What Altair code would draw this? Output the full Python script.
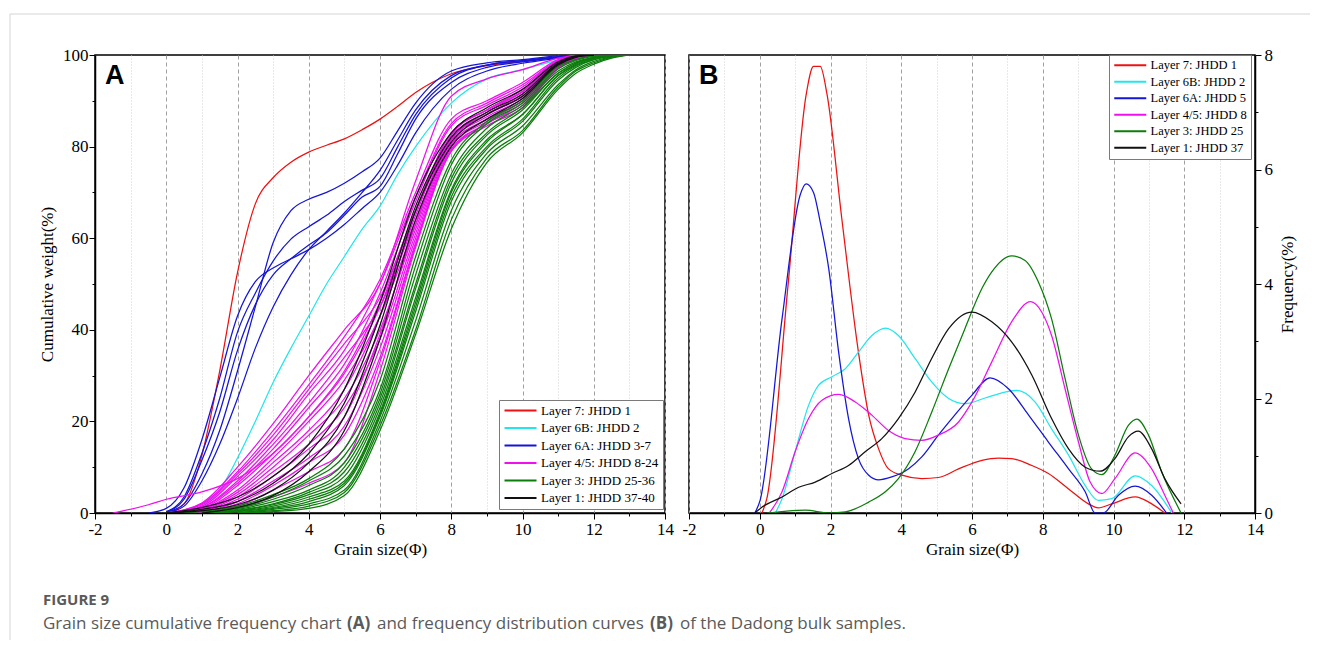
import altair as alt
import pandas as pd

# ---------------- Panel A : cumulative curves ----------------
GRID_FINE = [-1, -0.5, 0, 0.5, 1, 1.5, 2, 2.5, 3, 3.5, 4, 4.5, 5, 5.5, 6, 6.5, 7, 8, 9, 10, 11, 11.5, 12]
GRID_COARSE = [-1.5, -0.5, 0, 1, 2, 3, 4, 5, 6, 7, 8, 9, 10, 11, 11.5, 12, 12.5, 13]

N = None
RED_A = [N, N, 0, 2, 12.6, 31, 52.5, 67.5, 73.2, 76.6, 78.8, 80.3, 81.7, 83.7, 86, 88.8, 91.8, 95.9, 97.7, 98.6, 99.6, 100, N]
CYAN_A = [N, N, N, 0, 1.5, 5, 12, 20, 28.5, 36, 43, 50, 56, 62, 67, 74, 80, 89.5, 94.8, 96.8, 98.9, 99.6, 100]
BLUE_A = [
    [N, N, 0.2, 2, 8.5, 18, 31, 45, 59, 66, 68.5, 70, 72, 74.5, 77.5, 83.5, 89.5, 96.5, 98.3, 99, 99.8, 100, N],
    [N, 0, 1, 5.5, 16, 29.5, 43, 50.5, 53.5, 55.5, 57.5, 60, 63, 66.5, 70, 76, 83, 92.5, 96.5, 98.2, 99.3, 99.8, 100],
    [N, N, 0.3, 3.5, 13, 25, 39.5, 48, 55, 59.8, 62.5, 65, 68, 70.5, 73, 80, 87, 95, 97.8, 98.8, 99.6, 100, N],
    [N, N, 0.2, 3, 11.5, 22, 35.5, 45.5, 52, 55.5, 58.5, 61.2, 65, 69, 71.3, 78.5, 86, 94, 97.3, 98.5, 99.5, 100, N],
    [N, N, 0, 1.5, 7, 15, 25, 36, 45, 52, 57.5, 61.5, 65.5, 70, 74.8, 81.5, 88, 95.5, 97.8, 98.8, 99.6, 100, N],
]
MAGENTA_A = [
    [0, 1.8, 3, 4.6, 7.5, 13, 21, 31, 46, 66, 82, 87.5, 92, 98.5, 99.6, 100, N, N],
    [N, N, 0, 2.2, 10, 19.5, 30, 40, 50, 72.5, 91, 94.8, 96.8, 99.3, 100, N, N, N],
    [N, N, 0, 2, 9, 18, 28, 38.5, 51, 70, 86, 90, 94, 99, 100, N, N, N],
    [N, N, 0, 1.8, 8.5, 17, 27, 37, 47, 66, 83, 88, 92.5, 98.6, 99.8, 100, N, N],
    [N, N, 0, 1.5, 8, 16, 26, 35.5, 50, 69, 85, 89.5, 93.5, 98.8, 100, N, N, N],
    [N, N, 0, 1.3, 7, 15, 24, 34, 45, 64, 82, 87, 91.5, 98.4, 99.7, 100, N, N],
    [N, N, 0, 1.2, 6.5, 14, 23, 32.5, 48, 68, 84.5, 89, 93, 98.8, 100, N, N, N],
    [N, N, 0, 1, 6, 13, 21, 30.5, 45, 66, 83, 88, 92, 98.5, 99.8, 100, N, N],
    [N, N, 0, 0.9, 5, 12, 20, 29, 43, 63, 81.5, 87, 91, 98.2, 99.6, 100, N, N],
    [N, N, 0, 0.8, 4.5, 11, 18, 27, 43, 65, 82.5, 88, 92, 98.3, 99.7, 100, N, N],
    [N, N, 0, 0.7, 4, 10, 17, 25, 40, 62, 81, 86.5, 90.5, 98, 99.5, 100, N, N],
    [N, N, 0, 0.6, 3.5, 9, 15, 23, 38, 61, 80.5, 86, 90, 97.8, 99.5, 100, N, N],
    [N, N, 0, 0.5, 3, 8, 14, 21, 39, 63, 81.5, 87, 91, 98, 99.6, 100, N, N],
    [N, N, 0, 0.4, 2.5, 7, 12, 19, 36, 60, 80, 85.5, 90, 97.6, 99.4, 100, N, N],
    [N, N, 0, 0.3, 2, 6, 11, 17, 34, 59, 79.5, 85, 89.5, 97.4, 99.3, 100, N, N],
    [N, N, 0, 0.2, 1.5, 5, 9, 14, 33, 58.5, 79, 85, 89, 97.2, 99.2, 100, N, N],
    [N, N, 0, 0.1, 1, 3.5, 6.5, 11, 31, 58, 79, 84.5, 88.5, 97, 99.1, 100, N, N],
]
GREEN_A = [
    [N, N, 0, 0.4, 1.5, 4, 7.5, 14, 29, 56, 77, 85.5, 90, 97.5, 99, 99.8, 100, N],
    [N, N, 0, 0.3, 1.2, 3.5, 7, 12.5, 27, 54, 76, 85, 89.5, 97, 98.8, 99.7, 100, N],
    [N, N, N, 0, 1, 3, 6, 11, 26, 52, 74, 84, 89, 96.5, 98.5, 99.5, 100, N],
    [N, N, N, 0, 0.8, 2.5, 5, 10, 25, 50, 73, 83, 88.5, 96, 98.3, 99.5, 100, N],
    [N, N, N, 0, 0.6, 2, 4.5, 9, 24, 49, 72, 82.5, 88, 96, 98.2, 99.4, 99.9, 100],
    [N, N, N, 0, 0.5, 1.8, 4, 8, 23, 47, 70.5, 81.5, 87, 95.5, 98, 99.3, 99.9, 100],
    [N, N, N, 0, 0.4, 1.5, 3.5, 7, 22, 46, 70, 81, 87, 95.5, 97.8, 99.2, 99.8, 100],
    [N, N, N, 0, 0.3, 1.2, 3, 6.5, 21.5, 45, 69, 80, 86, 95, 97.6, 99, 99.8, 100],
    [N, N, N, N, 0, 1, 2.5, 6, 21, 44, 68, 79.5, 85.5, 94.5, 97.3, 99, 99.7, 100],
    [N, N, N, N, 0, 0.8, 2, 5, 20, 42, 66, 78.5, 84.5, 93.5, 96.8, 98.6, 99.6, 100],
    [N, N, N, N, 0, 0.5, 1.5, 4.5, 19, 40, 64, 77.5, 83.5, 93, 96.5, 98.3, 99.5, 100],
    [N, N, N, N, 0, 0.3, 1, 3.8, 18, 39, 62, 76.5, 83, 92.5, 96, 98, 99.3, 100],
]
BLACK_A = [
    [N, N, 0, 1.2, 3.5, 8, 15, 27, 46, 69, 83, 88.5, 92.5, 98.5, 99.8, 100, N, N],
    [N, N, 0, 0.8, 2.5, 6.5, 13, 24, 43, 67, 82, 87.5, 91.5, 98.2, 99.7, 100, N, N],
    [N, N, 0, 0.5, 1.8, 5, 11, 21, 41, 66, 81, 87, 91, 98, 99.6, 100, N, N],
    [N, N, N, 0, 1.2, 3.8, 9, 18, 38, 64, 80, 86, 90.5, 97.8, 99.5, 100, N, N],
]

GROUPS_A = ["Layer 7: JHDD 1", "Layer 6B: JHDD 2", "Layer 6A: JHDD 3-7",
            "Layer 4/5: JHDD 8-24", "Layer 3: JHDD 25-36", "Layer 1: JHDD 37-40"]
GROUPS_B = ["Layer 7: JHDD 1", "Layer 6B: JHDD 2", "Layer 6A: JHDD 5",
            "Layer 4/5: JHDD 8", "Layer 3: JHDD 25", "Layer 1: JHDD 37"]
COLORS = ["#ee1111", "#22e6ec", "#1515d8", "#ee11ee", "#0b7d0b", "#111111"]

# ---------------- Panel B : frequency curves ----------------
RED_B_X = [0.06, 0.2, 0.8, 1.31, 1.52, 1.71, 1.9, 2.32, 2.79, 3.08, 3.36, 3.64, 4.02, 4.58, 5.05, 5.62, 6.28, 6.75, 7.12, 7.69, 8.16, 8.73, 9.29, 9.57, 9.95, 10.61, 11.08, 11.45]
RED_B_Y = [0, 0.25, 3.98, 7.3, 7.8, 7.8, 7.32, 5.14, 2.81, 1.71, 1.12, 0.77, 0.66, 0.6, 0.62, 0.77, 0.92, 0.96, 0.95, 0.83, 0.69, 0.42, 0.16, 0.09, 0.16, 0.28, 0.16, 0]
CYAN_B_X = [0.44, 0.63, 1.0, 1.38, 1.66, 2.04, 2.42, 2.79, 3.17, 3.56, 3.92, 4.39, 4.86, 5.34, 5.8, 6.47, 7.27, 7.78, 8.25, 8.73, 9.2, 9.57, 9.95, 10.61, 11.08, 11.65]
CYAN_B_Y = [0, 0.25, 1.07, 1.88, 2.23, 2.38, 2.52, 2.81, 3.1, 3.23, 3.1, 2.7, 2.29, 2.0, 1.91, 2.03, 2.14, 1.94, 1.47, 1.01, 0.48, 0.22, 0.25, 0.65, 0.48, 0]
BLUE_B_X = [-0.14, 0.01, 0.63, 1.14, 1.31, 1.52, 1.71, 1.95, 2.23, 2.51, 2.79, 3.08, 3.36, 3.73, 4.2, 4.58, 5.05, 5.5, 6.0, 6.51, 7.03, 7.6, 8.16, 8.73, 9.2, 9.48, 9.71, 10.14, 10.61, 11.08, 11.5]
BLUE_B_Y = [0, 0.22, 3.39, 5.55, 5.75, 5.6, 5.08, 4.27, 2.81, 1.65, 0.95, 0.66, 0.58, 0.63, 0.77, 0.98, 1.36, 1.7, 2.06, 2.36, 2.17, 1.71, 1.24, 0.77, 0.37, 0, 0, 0.31, 0.47, 0.31, 0]
MAG_B_X = [0.27, 0.63, 1.0, 1.38, 1.76, 2.23, 2.7, 3.17, 3.64, 4.11, 4.58, 5.05, 5.62, 6.0, 6.56, 7.12, 7.66, 7.97, 8.25, 8.63, 9.01, 9.34, 9.67, 10.04, 10.61, 11.08, 11.45, 11.69]
MAG_B_Y = [0, 0.37, 1.07, 1.65, 1.97, 2.07, 1.94, 1.71, 1.44, 1.3, 1.27, 1.36, 1.59, 1.94, 2.64, 3.34, 3.69, 3.51, 3.1, 2.17, 1.24, 0.54, 0.34, 0.6, 1.05, 0.77, 0.31, 0]
GREEN_B_X = [0.2, 0.7, 1.29, 1.95, 2.42, 3.08, 3.55, 3.92, 4.39, 4.86, 5.34, 5.8, 6.28, 6.56, 7.12, 7.5, 7.88, 8.25, 8.63, 9.01, 9.38, 9.67, 10.04, 10.42, 10.66, 10.99, 11.36, 11.91]
GREEN_B_Y = [0, 0.03, 0.05, 0, 0.02, 0.19, 0.37, 0.6, 1.07, 1.76, 2.52, 3.22, 3.92, 4.21, 4.49, 4.41, 4.03, 3.39, 2.35, 1.36, 0.77, 0.67, 1.01, 1.53, 1.64, 1.36, 0.72, 0]
BLACK_B_X = [-0.14, 0.06, 0.63, 1.1, 1.57, 2.04, 2.51, 2.98, 3.45, 3.92, 4.39, 4.86, 5.34, 6.0, 6.56, 7.12, 7.69, 8.25, 8.73, 9.2, 9.62, 10.04, 10.42, 10.7, 11.08, 11.45, 11.91]
BLACK_B_Y = [0, 0.1, 0.28, 0.45, 0.54, 0.69, 0.83, 1.07, 1.3, 1.65, 2.11, 2.7, 3.22, 3.51, 3.34, 2.99, 2.41, 1.65, 1.12, 0.8, 0.73, 0.95, 1.33, 1.43, 1.12, 0.6, 0.16]

CAPTION_HEAD = "FIGURE 9"
CAPTION_PARTS = ["Grain size cumulative frequency chart", "(A)", "and frequency distribution curves",
                 "(B)", "of the Dadong bulk samples."]

# ---------------- build tables ----------------
rows_a = []
def add_a(grid, vals, group, sample):
    for g, v in zip(grid, vals):
        if v is not None:
            rows_a.append({"phi": g, "cum": v, "group": group, "sample": sample})

sid = 1
add_a(GRID_FINE, RED_A, GROUPS_A[0], f"JHDD {sid}"); sid += 1
add_a(GRID_FINE, CYAN_A, GROUPS_A[1], f"JHDD {sid}"); sid += 1
for c in BLUE_A:
    add_a(GRID_FINE, c, GROUPS_A[2], f"JHDD {sid}"); sid += 1
for c in MAGENTA_A:
    add_a(GRID_COARSE, c, GROUPS_A[3], f"JHDD {sid}"); sid += 1
for c in GREEN_A:
    add_a(GRID_COARSE, c, GROUPS_A[4], f"JHDD {sid}"); sid += 1
for c in BLACK_A:
    add_a(GRID_COARSE, c, GROUPS_A[5], f"JHDD {sid}"); sid += 1
df_a = pd.DataFrame(rows_a)

rows_b = []
for g, xs, ys in zip(GROUPS_B,
                     [RED_B_X, CYAN_B_X, BLUE_B_X, MAG_B_X, GREEN_B_X, BLACK_B_X],
                     [RED_B_Y, CYAN_B_Y, BLUE_B_Y, MAG_B_Y, GREEN_B_Y, BLACK_B_Y]):
    for x, y in zip(xs, ys):
        rows_b.append({"phi": x, "freq": y, "group": g})
df_b = pd.DataFrame(rows_b)

# ---------------- styling helpers ----------------
SERIF = "Liberation Serif"
EVEN = "datum.value % 2 == 0"
LEG_SYMBOL = "M-1,0L5.4,0"   # long horizontal stroke for legend keys

def x_axis():
    return alt.Axis(
        values=list(range(-2, 15)),
        labelExpr=f"{EVEN} ? '' + datum.value : ''",
        title="Grain size(\u03a6)",
        grid=True,
        gridDash={"condition": {"test": EVEN, "value": [4, 3]}, "value": [1, 2]},
        gridColor={"condition": {"test": EVEN, "value": "#a0a0a0"}, "value": "#d2d2d2"},
        gridWidth=1,
        tickSize={"condition": {"test": EVEN, "value": 6}, "value": 3},
        labelFlush=False, labelOverlap=False, labelPadding=2, titlePadding=4,
    )

def legend(x, y, size):
    return alt.Legend(title=None, orient="none", legendX=x, legendY=y,
                      symbolType=LEG_SYMBOL, symbolSize=100, symbolStrokeWidth=2,
                      labelFont=SERIF, labelFontSize=size, labelColor="black",
                      rowPadding=3.5, padding=4, strokeColor="#7a7a7a",
                      fillColor="white", labelOffset=25, labelLimit=300)

one = pd.DataFrame({"k": [0]})

def txt(s, x, y, size, font, weight="normal", color="black"):
    return alt.Chart(pd.DataFrame({"t": [s]})).mark_text(
        align="left", baseline="alphabetic", font=font, fontSize=size,
        fontWeight=weight, color=color
    ).encode(x=alt.value(x), y=alt.value(y), text="t:N")

# ---------------- Panel A ----------------
lines_a = alt.Chart(df_a).mark_line(strokeWidth=1.25, interpolate="monotone", clip=True).encode(
    x=alt.X("phi:Q", scale=alt.Scale(domain=[-2, 14], nice=False, zero=False), axis=x_axis()),
    y=alt.Y("cum:Q", scale=alt.Scale(domain=[0, 100], nice=False),
            axis=alt.Axis(values=list(range(0, 101, 10)),
                          labelExpr="datum.value % 20 == 0 ? datum.label : ''",
                          title="Cumulative weight(%)", grid=False,
                          tickSize={"condition": {"test": "datum.value % 20 == 0", "value": 6}, "value": 3},
                          labelFlush=False, labelPadding=1, titlePadding=6)),
    color=alt.Color("group:N", scale=alt.Scale(domain=GROUPS_A, range=COLORS),
                    legend=legend(404, 345, 13)),
    detail="sample:N",
)

border_v = alt.Chart(one).mark_rule(color="#d4d4d4", strokeWidth=1).encode(
    x=alt.value(-85), y=alt.value(-41), y2=alt.value(585))
border_h = alt.Chart(one).mark_rule(color="#d4d4d4", strokeWidth=1).encode(
    x=alt.value(-85), x2=alt.value(1215), y=alt.value(-41))

CAP_FONT = "Open Sans"
CAP_SIZE = 17
caption = [
    txt(CAPTION_HEAD, -52, 550, 15, CAP_FONT, "bold", "#5a5a5a"),
    txt(CAPTION_PARTS[0], -52, 574, CAP_SIZE, CAP_FONT, "normal", "#5a5a5a"),
    txt(CAPTION_PARTS[1], 252, 574, CAP_SIZE, CAP_FONT, "bold", "#5a5a5a"),
    txt(CAPTION_PARTS[2], 282, 574, CAP_SIZE, CAP_FONT, "normal", "#5a5a5a"),
    txt(CAPTION_PARTS[3], 555, 574, CAP_SIZE, CAP_FONT, "bold", "#5a5a5a"),
    txt(CAPTION_PARTS[4], 585, 574, CAP_SIZE, CAP_FONT, "normal", "#5a5a5a"),
]

panel_a = alt.layer(
    border_v, border_h, lines_a,
    txt("A", 10, 29, 27, "Liberation Sans", "bold"),
    *caption,
).properties(width=570, height=458)

# ---------------- Panel B ----------------
lines_b = alt.Chart(df_b).mark_line(strokeWidth=1.25, interpolate="monotone", clip=True).encode(
    x=alt.X("phi:Q", scale=alt.Scale(domain=[-2, 14], nice=False, zero=False), axis=x_axis()),
    y=alt.Y("freq:Q", scale=alt.Scale(domain=[0, 8], nice=False),
            axis=alt.Axis(orient="right", values=list(range(0, 9)),
                          labelExpr=f"{EVEN} ? datum.label : ''",
                          title="Frequency(%)", titleAngle=270, grid=False,
                          tickSize={"condition": {"test": EVEN, "value": 6}, "value": 3},
                          labelFlush=False, labelPadding=3, titlePadding=24)),
    color=alt.Color("group:N", scale=alt.Scale(domain=GROUPS_B, range=COLORS),
                    legend=legend(420, 0, 12.5)),
    order="phi:Q",
)

panel_b = alt.layer(
    lines_b,
    txt("B", 10, 29, 27, "Liberation Sans", "bold"),
).properties(width=566, height=458)

chart = alt.hconcat(panel_a, panel_b, spacing=24, bounds="flush").resolve_scale(
    x="independent", y="independent", color="independent"
).resolve_legend(color="independent").properties(
    padding={"left": 0, "top": 4, "right": 0, "bottom": 0}
).configure_view(
    stroke="black", strokeWidth=1.5
).configure_axis(
    labelFont=SERIF, titleFont=SERIF, labelFontSize=17, titleFontSize=17,
    labelColor="black", titleColor="black", titleFontWeight="normal",
    domainColor="black", domainWidth=1.5, tickColor="black", tickWidth=1,
)

chart.save("out.html", embed_options={"renderer": "svg", "actions": False})
